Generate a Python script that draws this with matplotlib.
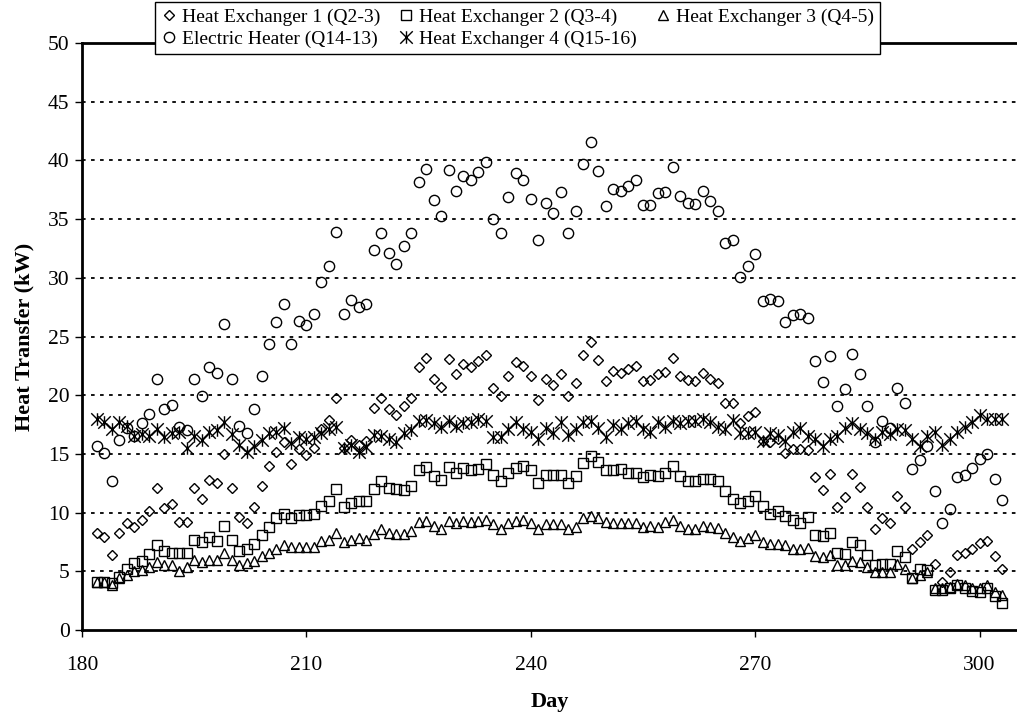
import numpy as np
import matplotlib
matplotlib.use('Agg')
import matplotlib.pyplot as plt
from matplotlib.path import Path

plt.rcParams['font.family'] = ['Liberation Serif', 'DejaVu Serif']

days = np.arange(182, 304)

hx1 = [8.3, 7.9, 6.4, 8.3, 9.1, 8.8, 9.4, 10.1, 12.1, 10.4, 10.7, 9.2, 9.2, 12.1, 11.2,
       12.8, 12.5, 15.0, 12.1, 9.6, 9.1, 10.5, 12.3, 14.0, 15.2, 16.0, 14.1, 15.4, 14.9,
       15.5, 17.1, 17.9, 19.8, 15.5, 16.2, 15.8, 16.1, 18.9, 19.8, 18.8, 18.3, 19.1, 19.8,
       22.4, 23.2, 21.4, 20.7, 23.1, 21.8, 22.7, 22.4, 22.9, 23.4, 20.6, 19.9, 21.6, 22.8,
       22.5, 21.6, 19.6, 21.4, 20.9, 21.8, 19.9, 21.0, 23.4, 24.5, 23.0, 21.2, 22.1, 21.9,
       22.2, 22.5, 21.2, 21.3, 21.8, 22.0, 23.2, 21.6, 21.3, 21.2, 21.9, 21.4, 21.0, 19.3,
       19.3, 17.6, 18.2, 18.6, 16.1, 16.0, 16.3, 15.1, 15.4, 15.4, 15.3, 13.0, 11.9, 13.3,
       10.5, 11.3, 13.3, 12.2, 10.5, 8.6, 9.5, 9.1, 11.4, 10.5, 6.9, 7.5, 8.1, 5.6, 4.1,
       4.9, 6.4, 6.6, 6.9, 7.4, 7.6, 6.3, 5.2]

hx2 = [4.1, 4.1, 4.0, 4.5, 5.2, 5.7, 5.9, 6.5, 7.2, 6.7, 6.6, 6.6, 6.6, 7.7, 7.5, 7.9,
       7.6, 8.9, 7.7, 6.7, 6.9, 7.3, 8.1, 8.8, 9.5, 9.9, 9.5, 9.8, 9.8, 9.9, 10.6, 11.0,
       12.0, 10.5, 10.8, 11.0, 11.0, 12.0, 12.7, 12.1, 12.0, 11.9, 12.3, 13.6, 13.9, 13.1,
       12.8, 13.9, 13.4, 13.8, 13.6, 13.7, 14.1, 13.2, 12.7, 13.4, 13.8, 14.0, 13.6, 12.5,
       13.2, 13.2, 13.2, 12.5, 13.1, 14.2, 14.8, 14.3, 13.6, 13.6, 13.7, 13.4, 13.4, 13.0,
       13.2, 13.1, 13.4, 14.0, 13.1, 12.7, 12.7, 12.9, 12.9, 12.7, 11.8, 11.2, 10.8, 11.0,
       11.4, 10.6, 9.9, 10.1, 9.7, 9.4, 9.1, 9.6, 8.1, 8.0, 8.3, 6.6, 6.5, 7.5, 7.2, 6.4,
       5.5, 5.6, 5.6, 6.7, 6.2, 4.4, 5.2, 5.1, 3.4, 3.4, 3.6, 3.8, 3.6, 3.3, 3.2, 3.6, 2.9,
       2.3]

hx3 = [4.1, 4.1, 3.8, 4.4, 4.7, 5.0, 5.1, 5.4, 5.8, 5.5, 5.5, 5.0, 5.4, 6.0, 5.8, 6.0,
       6.0, 6.6, 6.0, 5.5, 5.7, 5.9, 6.3, 6.6, 6.9, 7.2, 7.1, 7.1, 7.1, 7.1, 7.6, 7.7, 8.3,
       7.5, 7.7, 7.8, 7.7, 8.2, 8.6, 8.3, 8.2, 8.2, 8.4, 9.2, 9.3, 8.9, 8.6, 9.3, 9.1, 9.3,
       9.2, 9.3, 9.4, 9.0, 8.6, 9.1, 9.3, 9.4, 9.1, 8.6, 9.0, 9.0, 9.0, 8.6, 8.8, 9.5, 9.7,
       9.5, 9.2, 9.1, 9.1, 9.1, 9.1, 8.8, 8.9, 8.8, 9.2, 9.4, 8.9, 8.6, 8.6, 8.9, 8.8, 8.7,
       8.3, 7.9, 7.6, 7.8, 8.1, 7.5, 7.3, 7.3, 7.2, 6.9, 6.9, 7.0, 6.3, 6.2, 6.4, 5.5, 5.5,
       5.9, 5.8, 5.4, 4.9, 4.9, 4.9, 5.6, 5.2, 4.4, 4.7, 4.9, 3.6, 3.6, 3.7, 3.9, 3.8, 3.6,
       3.6, 3.8, 3.2, 3.0]

heater = [15.7, 15.1, 12.7, 16.2, 17.2, 16.5, 17.6, 18.4, 21.4, 18.8, 19.2, 17.3, 17.0,
          21.4, 19.9, 22.4, 21.9, 26.1, 21.4, 17.4, 16.8, 18.8, 21.6, 24.4, 26.2, 27.8,
          24.4, 26.3, 26.0, 26.9, 29.6, 31.0, 33.9, 26.9, 28.1, 27.5, 27.8, 32.4, 33.8,
          32.1, 31.2, 32.7, 33.8, 38.2, 39.3, 36.6, 35.3, 39.2, 37.4, 38.7, 38.3, 39.0,
          39.9, 35.0, 33.8, 36.9, 38.9, 38.3, 36.7, 33.2, 36.4, 35.5, 37.3, 33.8, 35.7,
          39.7, 41.6, 39.1, 36.1, 37.6, 37.4, 37.8, 38.3, 36.2, 36.2, 37.2, 37.3, 39.4,
          37.0, 36.4, 36.3, 37.4, 36.5, 35.7, 33.0, 33.2, 30.1, 31.0, 32.0, 28.0, 28.2,
          28.0, 26.2, 26.8, 26.9, 26.6, 22.9, 21.1, 23.3, 19.1, 20.5, 23.5, 21.8, 19.1,
          16.0, 17.8, 17.2, 20.6, 19.3, 13.7, 14.5, 15.7, 11.8, 9.1, 10.3, 13.0, 13.2,
          13.8, 14.6, 15.0, 12.9, 11.1]

hx4 = [18.0, 17.7, 17.1, 17.7, 17.4, 16.5, 16.7, 16.5, 17.1, 16.4, 16.8, 16.9, 15.5, 16.5,
       16.2, 16.9, 17.0, 17.7, 16.7, 15.8, 15.2, 15.7, 16.2, 16.8, 16.9, 17.2, 15.9, 16.4,
       16.3, 16.4, 16.8, 17.1, 17.3, 15.5, 15.8, 15.2, 15.6, 16.6, 16.5, 16.3, 16.0, 16.8,
       17.0, 17.8, 17.9, 17.6, 17.3, 17.8, 17.4, 17.6, 17.7, 18.0, 17.8, 16.4, 16.4, 17.1,
       17.7, 17.1, 16.9, 16.3, 17.2, 16.8, 17.7, 16.6, 17.1, 17.7, 17.8, 17.2, 16.4, 17.5,
       17.1, 17.6, 17.8, 17.1, 16.9, 17.7, 17.3, 17.8, 17.6, 17.8, 17.8, 18.0, 17.7, 17.3,
       17.1, 17.9, 16.8, 16.8, 16.9, 16.1, 16.8, 16.6, 16.1, 16.9, 17.2, 16.5, 16.3, 15.7,
       16.3, 16.5, 17.2, 17.6, 17.1, 16.8, 16.3, 16.9, 16.7, 17.1, 17.0, 16.3, 15.7, 16.5,
       16.9, 15.8, 16.3, 16.9, 17.3, 17.7, 18.3, 18.0, 18.0, 18.0]

labels = ['Heat Exchanger 1 (Q2-3)', 'Heat Exchanger 2 (Q3-4)', 'Heat Exchanger 3 (Q4-5)',
          'Electric Heater (Q14-13)', 'Heat Exchanger 4 (Q15-16)']

# asterisk marker: an X with a vertical bar through it
star = Path([(-1, -1), (1, 1), (-1, 1), (1, -1), (0, -1), (0, 1)],
            [Path.MOVETO, Path.LINETO, Path.MOVETO, Path.LINETO, Path.MOVETO, Path.LINETO])

fig = plt.figure(figsize=(10.17, 7.18), dpi=100, facecolor='w')
ax = fig.add_axes([82 / 1017, 88 / 718, 935 / 1017, 587 / 718])

kw = dict(linestyle='none', markerfacecolor='none', markeredgecolor='k', markeredgewidth=1.0)
h1, = ax.plot(days, hx1, marker='D', markersize=5.6, label=labels[0], **kw)
h2, = ax.plot(days, hx2, marker='s', markersize=7.2, label=labels[1], **kw)
h3, = ax.plot(days, hx3, marker='^', markersize=7.6, label=labels[2], **kw)
h4, = ax.plot(days, heater, marker='o', markersize=7.4, label=labels[3], **kw)
h5, = ax.plot(days, hx4, marker=star, markersize=9, label=labels[4], **kw)

ax.set_xlim(180, 305)
ax.set_ylim(0, 50)
ax.set_xticks([180, 210, 240, 270, 300])
ax.set_yticks(np.arange(0, 51, 5))
ax.tick_params(direction='out', length=5, width=1, labelsize=15.5, colors='k')
ax.tick_params(axis='y', pad=4)
ax.tick_params(axis='x', pad=14)

for y in range(5, 50, 5):
    ax.axhline(y, color='k', linewidth=1.3, linestyle=(0, (2, 3)), zorder=0)

for s in ['left', 'bottom', 'top']:
    ax.spines[s].set_linewidth(2)
ax.spines['right'].set_visible(False)

ax.set_xlabel('Day', fontsize=16, fontweight='bold', labelpad=12)
ax.set_ylabel('Heat Transfer (kW)', fontsize=16, fontweight='bold', labelpad=10)

# two rows: legend fills column by column
leg = fig.legend([h1, h4, h2, h5, h3], [labels[0], labels[3], labels[1], labels[4], labels[2]],
                 loc='upper left', bbox_to_anchor=(155 / 1017, 1 - 2 / 718), ncol=3,
                 fontsize=14, frameon=True, fancybox=False, framealpha=1, edgecolor='k',
                 handlelength=0.8, handletextpad=0.3, columnspacing=0.9, borderpad=0.3,
                 labelspacing=0.25, borderaxespad=0)
leg.get_frame().set_linewidth(1.0)

fig.savefig('out.png', dpi=100)
